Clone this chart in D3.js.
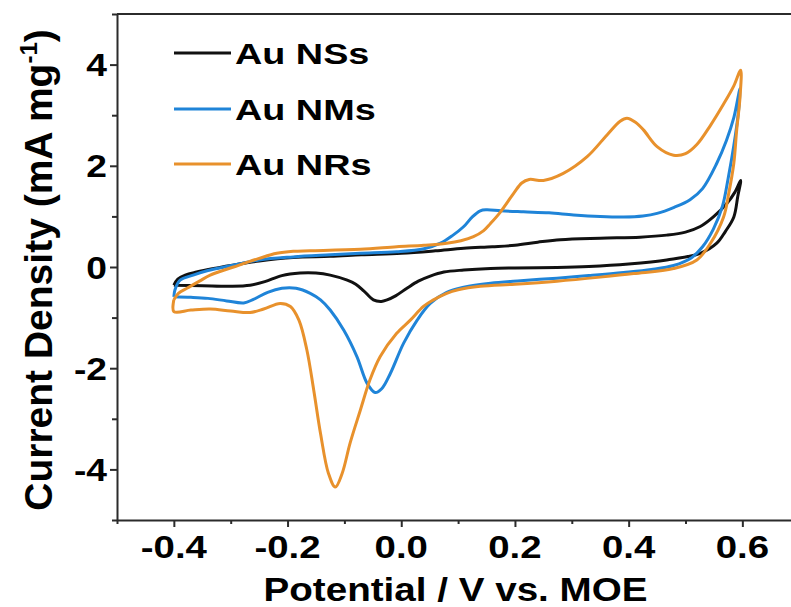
<!DOCTYPE html>
<html>
<head>
<meta charset="utf-8">
<script src="https://cdn.jsdelivr.net/npm/d3@7"></script>
<style>
body { margin: 0; background: #fff; }
svg { display: block; }
text { font-family: "Liberation Sans", Arial, sans-serif; font-weight: bold; fill: #000; }
</style>
</head>
<body>
<div id="chart"></div>
<script>
// series names + colours
var seriesNames = ["Au NSs", "Au NMs", "Au NRs"];
var seriesColors = ["#111111", "#1f84d8", "#e8912c"];

// Au NSs (black) - forward scan then reverse scan
var nsV = [-0.400,-0.393,-0.380,-0.360,-0.330,-0.300,-0.250,-0.190,-0.125,-0.070,0.000,0.060,0.110,0.160,0.200,0.240,0.280,0.350,0.420,0.467,0.500,0.526,0.550,0.573,0.587,0.597,
  0.592,0.585,0.570,0.555,0.526,0.467,0.400,0.330,0.274,0.200,0.157,0.110,0.075,0.051,0.030,0.010,-0.010,-0.025,-0.035,-0.049,-0.066,-0.080,-0.095,-0.125,-0.150,-0.178,-0.210,-0.240,-0.266,-0.300,-0.350,-0.400];
var nsJ = [-0.36,-0.24,-0.16,-0.10,-0.03,0.03,0.12,0.19,0.21,0.24,0.27,0.32,0.37,0.40,0.43,0.49,0.54,0.57,0.59,0.63,0.69,0.80,1.00,1.26,1.48,1.71,
  1.40,0.99,0.70,0.47,0.27,0.14,0.06,0.01,-0.01,-0.02,-0.03,-0.06,-0.10,-0.18,-0.28,-0.42,-0.57,-0.65,-0.68,-0.65,-0.47,-0.34,-0.26,-0.16,-0.12,-0.12,-0.17,-0.29,-0.36,-0.38,-0.37,-0.36];

// Au NMs (blue)
var nmV = [-0.400,-0.398,-0.389,-0.366,-0.340,-0.307,-0.250,-0.190,-0.125,-0.072,-0.008,0.040,0.069,0.090,0.110,0.125,0.139,0.150,0.175,0.215,0.260,0.303,0.350,0.391,0.425,0.450,0.480,0.508,0.530,0.555,0.572,0.585,0.596,
  0.593,0.585,0.575,0.565,0.549,0.530,0.510,0.479,0.440,0.391,0.330,0.274,0.210,0.157,0.110,0.080,0.051,0.028,0.004,-0.019,-0.034,-0.046,-0.060,-0.078,-0.101,-0.125,-0.142,-0.160,-0.185,-0.210,-0.235,-0.260,-0.277,-0.307,-0.340,-0.370,-0.400];
var nmJ = [-0.59,-0.45,-0.26,-0.16,-0.07,0.01,0.14,0.20,0.24,0.27,0.30,0.36,0.47,0.62,0.80,0.99,1.11,1.13,1.11,1.09,1.07,1.03,1.00,0.99,1.01,1.06,1.18,1.33,1.55,2.05,2.50,2.95,3.53,
  3.05,2.40,1.75,1.20,0.75,0.40,0.18,0.03,-0.05,-0.11,-0.17,-0.22,-0.27,-0.32,-0.40,-0.50,-0.72,-1.05,-1.51,-2.10,-2.40,-2.48,-2.30,-1.77,-1.25,-0.85,-0.65,-0.52,-0.42,-0.42,-0.50,-0.64,-0.71,-0.67,-0.62,-0.60,-0.59];

// Au NRs (orange)
var nrV = [-0.400,-0.392,-0.377,-0.355,-0.336,-0.295,-0.250,-0.219,-0.190,-0.160,-0.072,-0.008,0.040,0.080,0.105,0.127,0.145,0.157,0.174,0.198,0.212,0.225,0.250,0.285,0.327,0.362,0.385,0.397,0.412,0.426,0.450,0.479,0.500,0.520,0.544,0.567,0.585,0.597,
  0.596,0.590,0.585,0.576,0.567,0.544,0.520,0.479,0.409,0.350,0.274,0.200,0.139,0.100,0.080,0.055,0.039,0.016,-0.008,-0.037,-0.055,-0.072,-0.090,-0.104,-0.116,-0.128,-0.142,-0.154,-0.166,-0.180,-0.195,-0.213,-0.242,-0.266,-0.300,-0.336,-0.370,-0.400,-0.400];
var nrJ = [-0.65,-0.52,-0.42,-0.28,-0.16,0.00,0.17,0.27,0.31,0.32,0.35,0.40,0.43,0.47,0.52,0.60,0.72,0.86,1.08,1.46,1.66,1.73,1.71,1.85,2.18,2.61,2.88,2.94,2.86,2.71,2.38,2.21,2.24,2.42,2.80,3.22,3.58,3.89,
  3.37,2.70,2.05,1.45,0.99,0.47,0.14,-0.03,-0.13,-0.20,-0.28,-0.34,-0.38,-0.45,-0.52,-0.66,-0.78,-1.05,-1.31,-1.77,-2.23,-2.83,-3.48,-4.08,-4.35,-4.08,-3.29,-2.43,-1.64,-1.05,-0.78,-0.72,-0.83,-0.90,-0.87,-0.83,-0.85,-0.88,-0.65];

// axis ticks
var xMajor = [-0.4, -0.2, 0.0, 0.2, 0.4, 0.6];
var xMinor = [-0.5, -0.3, -0.1, 0.1, 0.3, 0.5, 0.7];
var yMajor = [-4, -2, 0, 2, 4];
var yMinor = [-5, -3, -1, 1, 3, 5];

var width = 791;
var height = 607;

var svg = d3.select("#chart")
    .append("svg")
    .attr("width", width)
    .attr("height", height);

var xScale = d3.scaleLinear()
    .domain([-0.5, 0.7])
    .range([117, 799.2]);

var yScale = d3.scaleLinear()
    .domain([-5, 5])
    .range([520, 14]);

// axes
function styleAxis(g) {
  g.selectAll("path, line")
      .attr("stroke", "#2b2b2b")
      .attr("stroke-width", 2);
}

svg.append("g")
    .attr("transform", `translate(0, ${yScale(-5)})`)
    .call(d3.axisBottom(xScale).tickValues(xMinor).tickSize(4).tickFormat(""))
    .call(g => g.select(".domain").remove())
    .call(styleAxis);

svg.append("g")
    .attr("transform", `translate(0, ${yScale(-5)})`)
    .call(d3.axisBottom(xScale).tickValues(xMajor).tickSize(7).tickSizeOuter(0).tickFormat(""))
    .call(styleAxis);

svg.append("g")
    .attr("transform", `translate(${xScale(-0.5)}, 0)`)
    .call(d3.axisLeft(yScale).tickValues(yMinor).tickSize(5).tickFormat(""))
    .call(g => g.select(".domain").remove())
    .call(styleAxis);

svg.append("g")
    .attr("transform", `translate(${xScale(-0.5)}, 0)`)
    .call(d3.axisLeft(yScale).tickValues(yMajor).tickSize(7).tickSizeOuter(0).tickFormat(""))
    .call(styleAxis);

// top frame line
svg.append("line")
    .attr("x1", xScale(-0.5))
    .attr("x2", xScale(0.7))
    .attr("y1", yScale(5))
    .attr("y2", yScale(5))
    .attr("stroke", "#2b2b2b")
    .attr("stroke-width", 2);

// tick labels (hyphen minus like the original)
svg.selectAll(".xLabel")
    .data(xMajor)
    .enter()
    .append("text")
    .attr("class", "xLabel")
    .attr("text-anchor", "middle")
    .attr("font-size", 32)
    .attr("transform", d => `translate(${xScale(d)}, 558) scale(1.2, 1)`)
    .text(d => d.toFixed(1));

svg.selectAll(".yLabel")
    .data(yMajor)
    .enter()
    .append("text")
    .attr("class", "yLabel")
    .attr("text-anchor", "end")
    .attr("font-size", 31)
    .attr("transform", d => `translate(107, ${yScale(d) + 11.5}) scale(1.2, 1)`)
    .text(d => String(d));

// axis titles
svg.append("text")
    .attr("text-anchor", "middle")
    .attr("font-size", 33)
    .attr("transform", "translate(455.5, 601) scale(1.17, 1)")
    .text("Potential / V vs. MOE");

var yTitle = svg.append("text")
    .attr("text-anchor", "middle")
    .attr("font-size", 39)
    .attr("transform", "translate(52, 270) rotate(-90)");
yTitle.append("tspan").text("Current Density (mA mg");
yTitle.append("tspan").attr("font-size", 24).attr("dy", -15).text("-1");
yTitle.append("tspan").attr("dy", 15).text(")");

// curves
var series = [
  {v: nsV, j: nsJ},
  {v: nmV, j: nmJ},
  {v: nrV, j: nrJ}
];

var line = d3.line()
    .x(d => xScale(d[0]))
    .y(d => yScale(d[1]))
    .curve(d3.curveCatmullRom.alpha(0.5));

series.forEach(function(s, i) {
  var pts = s.v.map((v, k) => [v, s.j[k]]);
  svg.append("path")
      .datum(pts)
      .attr("fill", "none")
      .attr("stroke", seriesColors[i])
      .attr("stroke-width", 3)
      .attr("stroke-linejoin", "round")
      .attr("d", line);
});

// legend
var legendY = [53, 109, 164];
seriesNames.forEach(function(name, i) {
  svg.append("line")
      .attr("x1", 174)
      .attr("x2", 231)
      .attr("y1", legendY[i])
      .attr("y2", legendY[i])
      .attr("stroke", seriesColors[i])
      .attr("stroke-width", 3);
  svg.append("text")
      .attr("font-size", 30)
      .attr("transform", `translate(235, ${legendY[i] + 10.5}) scale(1.26, 1)`)
      .text(name);
});
</script>
</body>
</html>
